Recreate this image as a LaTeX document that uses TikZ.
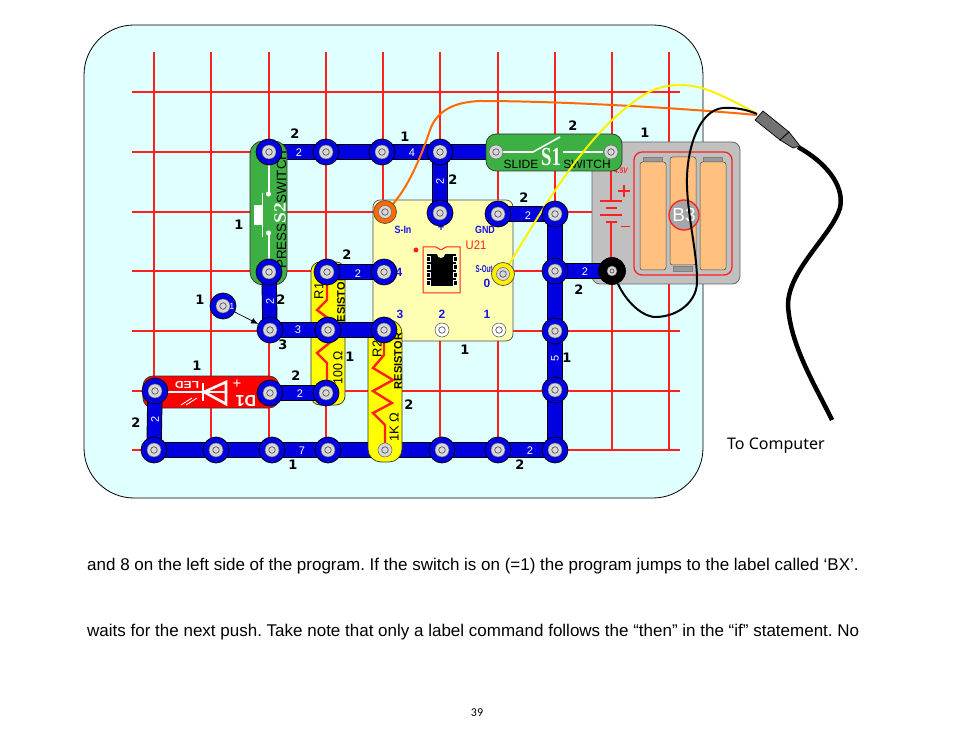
\documentclass[tikz,border=0pt]{standalone}
\usetikzlibrary{arrows.meta}
\usepackage{fontspec}
\setmainfont{Liberation Sans}
\newfontfamily\numbold{DejaVu Sans Bold}
\newfontfamily\serifw{Liberation Serif}
\newfontfamily\cari{Carlito}
\newfontfamily\tah{Noto Sans}
\definecolor{panel}{HTML}{E0FFFF}
\definecolor{gridred}{HTML}{FF2020}
\definecolor{stripblue}{HTML}{0000E0}
\definecolor{core}{HTML}{D8D8D8}
\definecolor{sgreen}{HTML}{3CB043}
\definecolor{resy}{HTML}{FFFF00}
\definecolor{ulow}{HTML}{FFFFB4}
\definecolor{batgray}{HTML}{C0C0C0}
\definecolor{cellc}{HTML}{FFC080}
\definecolor{wireo}{HTML}{FF6A00}
\definecolor{wirey}{HTML}{FFF000}
\definecolor{txtblue}{HTML}{1414E6}
\tikzset{
  x=1pt,y=-1pt,
  gridline/.style={gridred,line width=1.1pt},
  strip/.style={line width=0.9pt,draw=black,double=stripblue,double distance=13.5pt},
  snapo/.style={circle,draw=black,line width=0.7pt,fill=stripblue,minimum size=26pt,inner sep=0pt},
  snapm/.style={circle,draw=black!60,line width=0.5pt,fill=core,minimum size=14pt,inner sep=0pt},
  snapc/.style={circle,draw=black!65,line width=0.7pt,fill=core,minimum size=6.5pt,inner sep=0pt},
  nlab/.style={font=\numbold\fontsize{13}{13}\selectfont,inner sep=0pt},
  slab/.style={font=\fontsize{11}{11}\selectfont,text=white,inner sep=0pt},
  blab/.style={font=\bfseries\fontsize{10.5}{10.5}\selectfont,text=txtblue,inner sep=0pt,xscale=.85},
  bnum/.style={font=\bfseries\fontsize{12}{12}\selectfont,text=txtblue,inner sep=0pt},
  btxt/.style={font=\fontsize{11}{11}\selectfont,text=black,inner sep=0pt},
  part/.style={draw=black!80,line width=0.7pt,rounded corners=11pt},
  artw/.style={draw=white,line width=1.6pt},
  zig/.style={draw=gridred,line width=2.4pt},
  bar/.style={draw=gridred,line width=1.2pt},
  cell/.style={draw=black!70,line width=0.5pt,fill=cellc,rounded corners=2.5pt},
  tab/.style={draw=black!50,line width=0.5pt,fill=black!40},
  body/.style={font=\frenchspacing\fontsize{17}{17}\selectfont,anchor=base west,inner sep=0pt},
}
\newcommand{\snapnode}[3]{\node[snapo,#3] (#1o) at (#2) {};\node[snapm] (#1m) at (#2) {};\node[snapc] (#1c) at (#2) {};}
\begin{document}
\begin{tikzpicture}
\useasboundingbox (0,0) rectangle (954,738);
\fill[white] (0,0) rectangle (954,738);
\draw[fill=panel,draw=black,line width=0.8pt,rounded corners=50pt] (84,25) rectangle (703,498);
% grid
\foreach \gx in {154,211,269,326,383,440,498,555,612,669}
  \draw[gridline] (\gx,52) -- (\gx,450);
\foreach \gy in {92,152,212,271,331,391,450}
  \draw[gridline] (132,\gy) -- (680,\gy);
% positions
\coordinate (a1) at (269,152);\coordinate (a2) at (326,152);\coordinate (a3) at (382,152);\coordinate (a4) at (440,152);
\coordinate (s1l) at (496,152);\coordinate (s1r) at (611,152);
\coordinate (b1) at (269,272);\coordinate (c1) at (270,330);\coordinate (c2) at (328,330);\coordinate (c3) at (384,330);
\coordinate (r1a) at (327,272);\coordinate (r1b) at (326,393);\coordinate (u4) at (384,272);
\coordinate (up) at (440,213);\coordinate (ug) at (498,214);
\coordinate (e1) at (555,214);\coordinate (e2) at (555,271);\coordinate (e3) at (555,331);\coordinate (e4) at (555,390);\coordinate (e5) at (555,450);
\coordinate (k) at (612,271);
\coordinate (d1) at (155,391);\coordinate (d2) at (270,393);
\coordinate (f1) at (154,450);\coordinate (f2) at (216,450);\coordinate (f3) at (272,450);\coordinate (f4) at (328,450);
\coordinate (f5) at (385,450);\coordinate (f6) at (442,450);\coordinate (f7) at (498,450);
\coordinate (us) at (385,212);\coordinate (uo) at (503,274);\coordinate (u2) at (442,330);\coordinate (u1) at (499,330);
\coordinate (l1) at (223,306);
% U21 module
\draw[fill=ulow,draw=black!70,line width=0.7pt,rounded corners=7pt] (373,200) rectangle (513,341);
\draw[draw=gridred,line width=1pt] (423,247) -- (436,247) -- (441,250) -- (446,247) -- (460,247) -- (460,293) -- (423,293) -- cycle;
\fill[black] (427,254) rectangle (456,286);
\foreach \py in {256,264,272,280}{
  \draw[white,fill=black,line width=0.4pt] (426,\py) rectangle (430,\py+5);
  \draw[white,fill=black,line width=0.4pt] (453,\py) rectangle (457,\py+5);}
\fill[ulow] (441,254) circle (4);
\fill[gridred] (416,250) circle (2.5);
\node[blab] (tsin) at (403,230) {S-In};
\node[blab,font=\bfseries\fontsize{13}{13}\selectfont,xscale=1] (tplus) at (441,228) {+};
\node[blab] (tgnd) at (485,230) {GND};
\node[blab,font=\bfseries\fontsize{10}{10}\selectfont,xscale=.72] (tsout) at (484,269) {S-Out};
\node[bnum] (t0) at (487,283) {0};
\node[bnum] (t4) at (399,272) {4};
\node[bnum] (t3) at (400,314) {3};
\node[bnum] (t2) at (442,314) {2};
\node[bnum] (t1) at (487,314) {1};
\node[inner sep=0pt,text=gridred,font=\fontsize{12.5}{12.5}\selectfont,xscale=.9] (tu21) at (476,245) {U21};
% battery
\draw[fill=batgray,draw=black!60,line width=0.8pt,rounded corners=8pt] (592,142) rectangle (740,284);
\draw[draw=gridred,line width=1.3pt,rounded corners=8pt] (634,152) rectangle (732,275);
\draw[tab] (643,157) rectangle (662,162);
\draw[tab] (703,157) rectangle (722,162);
\draw[tab] (673,266) rectangle (692,271);
\draw[cell] (640,162) rectangle (666,270);
\draw[cell] (670,157) rectangle (696,265);
\draw[cell] (700,162) rectangle (726,270);
\draw[draw=gridred,line width=1.3pt,fill=black!35] (684,215) circle (15);
\node[inner sep=0pt,text=white,font=\fontsize{19}{19}\selectfont] (tb3) at (684,215) {B3};
\draw[bar] (611,170) -- (611,201);
\draw[bar] (600,201) -- (622,201);
\draw[bar] (606,208) -- (617,208);
\draw[bar] (600,215) -- (622,215);
\draw[bar] (606,222) -- (617,222);
\draw[bar] (611,222) -- (611,258);
\draw[bar] (618,191) -- (630,191);\draw[bar] (624,185) -- (624,197);
\draw[gridred,line width=1.6pt] (621,226.5) -- (630,226.5);
\node[inner sep=0pt,text=gridred,font=\bfseries\fontsize{8}{8}\selectfont\itshape,xscale=.8] (t45) at (621,171) {4.5V};
% R1
\draw[part,fill=resy,rounded corners=9pt] (311,262) rectangle (345,405);
\draw[zig] (327,280) -- (327,300) -- (317,310) -- (333,322) -- (333,340) -- (317,353) -- (327,363) -- (327,385);
\node[btxt,rotate=90,font=\fontsize{13}{13}\selectfont] (tr1) at (319,291) {R1};
\node[btxt,rotate=90,font=\bfseries\fontsize{11}{11}\selectfont] (tr1res) at (341,302) {RESISTOR};
\node[btxt,rotate=90,font=\fontsize{13}{13}\selectfont,xscale=.95] (tr1v) at (338,368) {100 Ω};
% LED
\draw[part,fill=red,rounded corners=10pt] (143,376) rectangle (279,408);
\draw[artw,line width=2pt] (167,392) -- (226,392);
\draw[artw,line width=2.6pt] (203,383) -- (203,401);
\draw[artw,line width=2.6pt] (204,392) -- (226,382) -- (226,404) -- cycle;
\node[slab,rotate=180,font=\bfseries\fontsize{10}{10}\selectfont,xscale=1.2] (tled) at (187,385) {LED};
\node[slab,font=\fontsize{15}{15}\selectfont] (tledp) at (237,384) {+};
\node[slab,rotate=180,font=\bfseries\fontsize{16}{16}\selectfont] (tled1) at (246,401) {D1};
\draw[white,line width=0.9pt] (181,405) -- (192,398);\draw[white,line width=0.9pt] (186,405) -- (197,398);
% strips below parts
\draw[strip] (f1) -- (f7);
\draw[strip] (f7) -- (e5);
\draw[strip] (e1) -- (e5);
\draw[strip] (d1) -- (f1);
\draw[strip] (d2) -- (r1b);
\draw[strip] (a1) -- (a4);
\draw[strip] (a4) -- (s1l);
\draw[strip] (a4) -- (up);
\draw[strip] (ug) -- (e1);
\draw[strip] (e2) -- (k);
% R2 over strip 7
\draw[part,fill=resy,rounded corners=13pt] (368,320) rectangle (402,462);
\draw[zig] (384,340) -- (384,355) -- (373,368) -- (393,380) -- (373,391) -- (392,403) -- (373,413) -- (385,425) -- (385,443);
\node[btxt,rotate=90,font=\fontsize{13}{13}\selectfont] (tr2) at (377,349) {R2};
\node[btxt,rotate=90,font=\bfseries\fontsize{11}{11}\selectfont] (tr2res) at (398,361) {RESISTOR};
\node[btxt,rotate=90,font=\fontsize{13}{13}\selectfont] (tr2v) at (394,427) {1K Ω};
% S2 press switch
\draw[part,fill=sgreen,rounded corners=13pt] (250,141) rectangle (287,285);
\draw[artw] (269,165) -- (269,194);
\draw[artw] (269,233) -- (269,262);
\fill[white] (268.5,194) circle (2.6) (268.5,233) circle (2.6);
\draw[artw,line width=1.8pt] (262.5,193) -- (262.5,237);
\fill[white] (254,205) rectangle (262,225);
\node[inner sep=0pt,rotate=90,text=white,font=\serifw\bfseries\fontsize{17}{17}\selectfont,xscale=1.15] (ts2) at (280,213) {S2};
\node[btxt,rotate=90,font=\fontsize{13.4}{13.4}\selectfont] (tpress) at (281.5,246) {PRESS};
\node[btxt,rotate=90,font=\fontsize{13.4}{13.4}\selectfont] (tswitch2) at (281.5,177) {SWITCH};
% strips above S2 and resistors
\draw[strip] (b1) -- (c1);
\draw[strip] (c1) -- (c3);
\draw[strip] (r1a) -- (u4);
% S1 slide switch
\draw[part,fill=sgreen,rounded corners=10pt] (486,134) rectangle (622,171);
\draw[artw] (503,152) -- (533,152) -- (560,137);
\draw[artw] (563,152) -- (603,152);
\node[inner sep=0pt,text=white,font=\serifw\bfseries\fontsize{26}{26}\selectfont,xscale=.72] (ts1) at (551,157) {S1};
\node[btxt,font=\fontsize{12}{12}\selectfont] (tslide) at (521,164) {SLIDE};
\node[btxt,font=\fontsize{12}{12}\selectfont] (tswitch1) at (587,164) {SWITCH};
% wires under the terminals
\draw[wireo,line width=2pt] (us) .. controls (405,195) and (420,160) .. (430,130) .. controls (437,110) and (455,102) .. (480,101) .. controls (560,101) and (680,108) .. (757,115);
\draw[wirey,line width=2pt] (uo) .. controls (540,215) and (585,130) .. (647,93) .. controls (665,83) and (690,82) .. (713,92) .. controls (730,99) and (745,107) .. (757,114);
% snaps
\snapnode{na1}{a1}{}\snapnode{na2}{a2}{}\snapnode{na3}{a3}{}\snapnode{na4}{a4}{}
\node[snapm] (ns1l) at (s1l) {};\node[snapc] (ns1lc) at (s1l) {};
\node[snapm] (ns1r) at (s1r) {};\node[snapc] (ns1rc) at (s1r) {};
\snapnode{nb1}{b1}{}\snapnode{nc1}{c1}{}\snapnode{nc2}{c2}{}\snapnode{nc3}{c3}{}
\snapnode{nr1a}{r1a}{}\snapnode{nr1b}{r1b}{}\snapnode{nu4}{u4}{}
\snapnode{nup}{up}{}\snapnode{nug}{ug}{}
\snapnode{ne1}{e1}{}\snapnode{ne2}{e2}{}\snapnode{ne3}{e3}{}\snapnode{ne4}{e4}{}\snapnode{ne5}{e5}{}
\snapnode{nd1}{d1}{}\snapnode{nd2}{d2}{}
\snapnode{nf1}{f1}{}\snapnode{nf2}{f2}{}\snapnode{nf3}{f3}{}\snapnode{nf4}{f4}{}
\node[snapm] (nf5) at (f5) {};\node[snapc] (nf5c) at (f5) {};
\snapnode{nf6}{f6}{}\snapnode{nf7}{f7}{}
\node[snapo,fill=wireo,draw=black!70,minimum size=23pt] (nuso) at (us) {};\node[snapm,minimum size=13pt] (nusm) at (us) {};\node[snapc] (nusc) at (us) {};
\node[snapo,fill=wirey,draw=black!70,minimum size=23pt] (nuoo) at (uo) {};\node[snapm,minimum size=13pt] (nuom) at (uo) {};\node[snapc] (nuoc) at (uo) {};
\node[snapm,fill=white,draw=black!70] (nu2) at (u2) {};\node[snapc,fill=white] (nu2c) at (u2) {};
\node[snapm,fill=white,draw=black!70] (nu1) at (u1) {};\node[snapc,fill=white] (nu1c) at (u1) {};
\snapnode{nl1}{l1}{}
\node[snapo,fill=black,minimum size=27pt] (nko) at (k) {};\node[snapm,minimum size=10pt] (nkm) at (k) {};\node[snapc,minimum size=4pt] (nkc) at (k) {};
% arrow
\draw[black,line width=0.7pt,-{Latex[length=7pt,width=6pt]}] (nl1o) -- (nc1o);
% black wires
\draw[black,line width=2pt] (618,284) .. controls (628,305) and (645,318) .. (657,317) .. controls (680,316) and (698,300) .. (697,280) .. controls (697,250) and (686,210) .. (687,177) .. controls (688,145) and (700,110) .. (723,108) .. controls (735,107) and (748,110) .. (757,114);
% connector
\draw[black,line width=4.5pt] (798,147) .. controls (825,162) and (845,185) .. (840,208) .. controls (832,235) and (788,270) .. (788,305) .. controls (790,345) and (815,385) .. (832,420);
\draw[fill=black!55,draw=black,line width=0.7pt] (763,111) -- (755,120) -- (780,140) -- (789,132) -- cycle;
\draw[fill=black!55,draw=black,line width=0.7pt] (789,132) -- (780,140) -- (793,148) -- (800,146) -- cycle;
% white strip labels
\node[slab] (l01) at (299,153) {2};
\node[slab] (l02) at (412,153) {4};
\node[slab,rotate=90] (l03) at (440,181) {2};
\node[slab] (l04) at (528,216) {2};
\node[slab] (l05) at (585,272) {2};
\node[slab,rotate=90] (l06) at (555,358) {5};
\node[slab] (l07) at (358,274) {2};
\node[slab] (l08) at (298,330) {3};
\node[slab,rotate=90] (l09) at (270,301) {2};
\node[slab] (l10) at (300,394) {2};
\node[slab,rotate=90] (l11) at (155,419) {2};
\node[slab] (l12) at (302,451) {7};
\node[slab] (l13) at (530,451) {2};
\node[slab,text=white,font=\fontsize{9}{9}\selectfont] (l14) at (232,306) {1};
% black counts
\node[nlab] (n01) at (295,134) {2};
\node[nlab] (n02) at (405,137) {1};
\node[nlab] (n03) at (573,126) {2};
\node[nlab] (n04) at (645,133) {1};
\node[nlab] (n05) at (453,180) {2};
\node[nlab] (n06) at (524,198) {2};
\node[nlab] (n07) at (239,225) {1};
\node[nlab] (n08) at (347,255) {2};
\node[nlab] (n09) at (200,300) {1};
\node[nlab] (n10) at (281,300) {2};
\node[nlab] (n11) at (283,345) {3};
\node[nlab] (n12) at (350,357) {1};
\node[nlab] (n13) at (465,350) {1};
\node[nlab] (n14) at (567,358) {1};
\node[nlab] (n15) at (579,290) {2};
\node[nlab] (n16) at (197,366) {1};
\node[nlab] (n17) at (296,376) {2};
\node[nlab] (n18) at (409,405) {2};
\node[nlab] (n19) at (136,423) {2};
\node[nlab] (n20) at (293,465) {1};
\node[nlab] (n21) at (520,465) {2};
% texts
\node[inner sep=0pt,anchor=base west,font=\tah\fontsize{16}{16}\selectfont] (tcomp) at (727,449) {To Computer};
\node[body] (p1) at (87,570) {and 8 on the left side of the program. If the switch is on (=1) the program jumps to the label called ‘BX’.};
\node[body] (p2) at (87,636) {waits for the next push. Take note that only a label command follows the “then” in the “if” statement. No};
\node[inner sep=0pt,font=\cari\fontsize{12}{12}\selectfont] (pg) at (477,713) {39};
\end{tikzpicture}
\end{document}
